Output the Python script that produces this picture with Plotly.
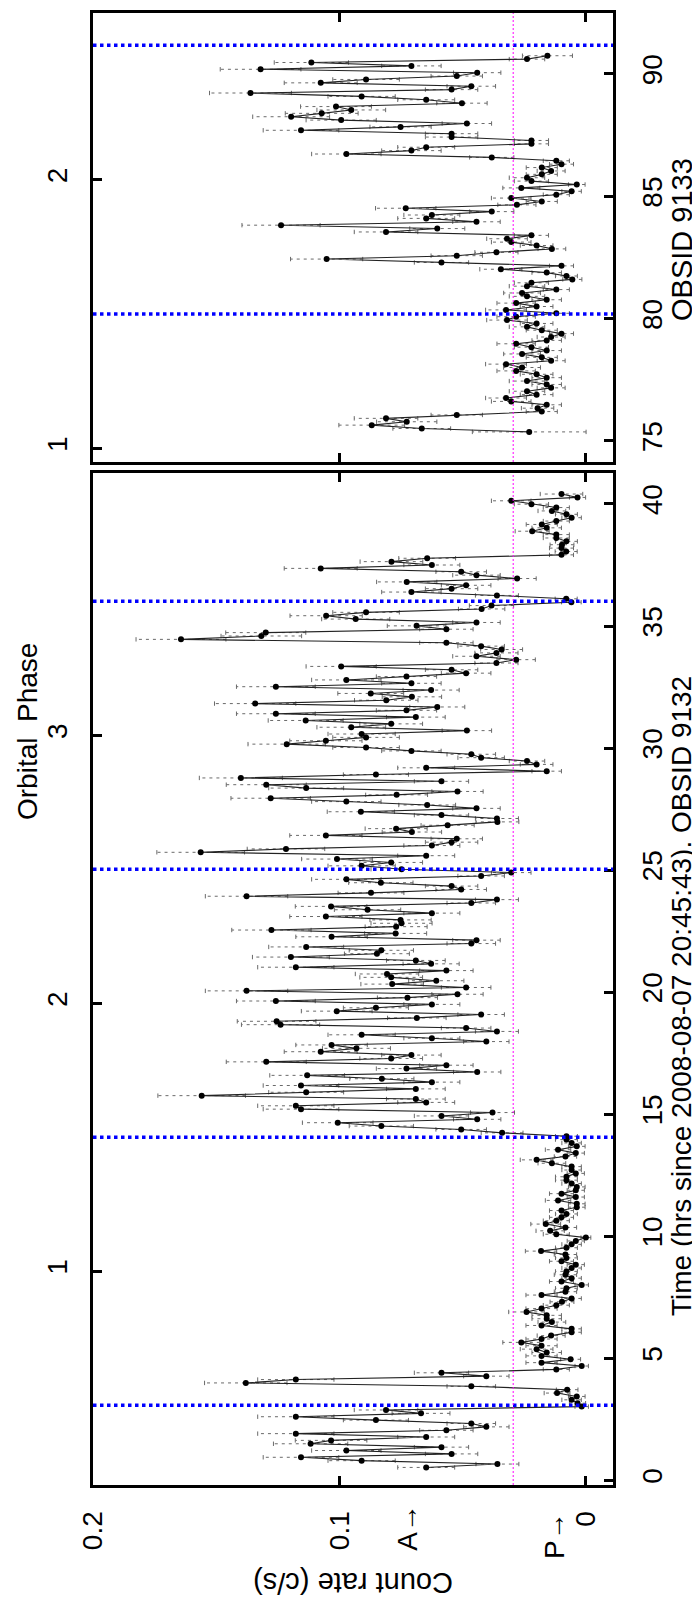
import numpy as np
import plotly.graph_objects as go

# Courbe de lumière Chandra, bins de 500 s (taux en c/s)
BIN_H = 0.1385          # largeur du bin en heures
EXPO_S = 500.0          # exposition nominale d'un bin (s)

# OBSID 9132 (panneau du bas), temps en h depuis 2008-08-07 20:45:43
T0_9132 = 0.52
RATE_9132 = [
    0.0648, 0.0359, 0.0910, 0.1156, 0.0545, 0.0972, 0.0586, 0.1117, 0.1034, 0.0648,
    0.1177, 0.0566, 0.0404, 0.0465, 0.0852, 0.1177, 0.0669, 0.0811,
    0.0017, 0.0034, 0.0058, 0.0037, 0.0117, 0.0076, 0.0465, 0.1380, 0.1177, 0.0404,
    0.0586, 0.0120, 0.0017, 0.0180, 0.0062, 0.0180, 0.0159, 0.0200, 0.0180, 0.0262,
    0.0180, 0.0141, 0.0058, 0.0058, 0.0180, 0.0138, 0.0159, 0.0159, 0.0241, 0.0180,
    0.0120, 0.0097, 0.0058, 0.0180, 0.0083, 0.0079, 0.0017, 0.0099, 0.0058, 0.0083,
    0.0079, 0.0058, 0.0041, 0.0099, 0.0079, 0.0083, 0.0182, 0.0079, 0.0058, 0.0041,
    0.0000, 0.0120, 0.0145, 0.0083, 0.0163, 0.0120, 0.0099, 0.0079, 0.0099, 0.0037,
    0.0037, 0.0113, 0.0041, 0.0099, 0.0041, 0.0037, 0.0058, 0.0079, 0.0079, 0.0041,
    0.0058, 0.0058, 0.0138, 0.0200, 0.0083, 0.0041, 0.0113, 0.0037, 0.0058, 0.0079,
    0.0079,
    0.0340, 0.0506, 0.0830, 0.1007,
    0.0441, 0.0586, 0.0379, 0.1156, 0.1177, 0.0648, 0.0690, 0.1559, 0.1135, 0.0690,
    0.1156, 0.0625, 0.0828, 0.1131, 0.0441, 0.0728, 0.0566, 0.1297, 0.0790, 0.0708,
    0.1076, 0.0931, 0.1032, 0.0404, 0.0625, 0.0910, 0.0361, 0.0486, 0.1239, 0.1255,
    0.0686, 0.0425, 0.1011, 0.0852, 0.0625, 0.1258, 0.0724, 0.0521, 0.1377, 0.0486,
    0.0786, 0.0607, 0.0790, 0.0807, 0.0566, 0.1177, 0.0628, 0.0690, 0.1197, 0.0848,
    0.0830, 0.1135, 0.0465, 0.0444, 0.1032, 0.0772, 0.1276, 0.0770, 0.0748, 0.0752,
    0.1055, 0.0625, 0.0886,
    0.1034, 0.0465, 0.0361, 0.1377, 0.0872, 0.0506, 0.0545, 0.0832, 0.0972, 0.0425,
    0.0303, 0.0748, 0.0910, 0.0790, 0.1010, 0.0648, 0.1563, 0.1217, 0.0625, 0.0545,
    0.0524, 0.1055, 0.0706, 0.0770, 0.0561, 0.0359, 0.0361, 0.0586, 0.0913, 0.0444,
    0.0644, 0.0972, 0.1279, 0.0768, 0.0521, 0.1135, 0.1297, 0.0586, 0.1400, 0.0852,
    0.0159, 0.0648, 0.0200, 0.0239, 0.0425, 0.0465, 0.0708, 0.0892, 0.1214, 0.1055,
    0.0892, 0.0910, 0.0483, 0.0952, 0.0790, 0.1137, 0.0690, 0.1258, 0.0728, 0.0603,
    0.1342, 0.0810,
    0.0706, 0.0873, 0.0628, 0.1258, 0.0708, 0.0972, 0.0728, 0.0486, 0.0545, 0.0993,
    0.0363, 0.0283, 0.0444, 0.0363, 0.0342, 0.0425, 0.0566, 0.1643, 0.1317, 0.1299,
    0.0566, 0.0687, 0.0444, 0.0934, 0.1054, 0.0892, 0.0423, 0.0383, 0.0059, 0.0080,
    0.0361, 0.0708, 0.0545, 0.0486, 0.0727, 0.0279, 0.0444, 0.0506, 0.1076, 0.0625,
    0.0789, 0.0644, 0.0099, 0.0080, 0.0099, 0.0097, 0.0079, 0.0120, 0.0120, 0.0218,
    0.0159, 0.0179, 0.0120, 0.0058, 0.0079, 0.0138, 0.0120, 0.0221, 0.0303, 0.0034,
    0.0099,
]
EXPO_FIRST_9132, EXPO_LAST_9132 = 500.0, 200.0

# OBSID 9133 (panneau du haut)
T0_9133 = 75.37
RATE_9133 = [
    0.0230, 0.0666, 0.0869, 0.0727, 0.0811, 0.0524, 0.0179, 0.0196, 0.0159, 0.0303,
    0.0324, 0.0200, 0.0239, 0.0141, 0.0159, 0.0239, 0.0159, 0.0200, 0.0283, 0.0259,
    0.0324, 0.0141, 0.0179, 0.0259, 0.0159, 0.0221, 0.0283, 0.0159, 0.0141, 0.0099,
    0.0179, 0.0239, 0.0200, 0.0320, 0.0283, 0.0120, 0.0324, 0.0200, 0.0283, 0.0159,
    0.0239, 0.0259, 0.0120, 0.0239, 0.0221, 0.0055, 0.0079, 0.0159, 0.0345, 0.0099,
    0.0586, 0.1052, 0.0524, 0.0363, 0.0138, 0.0200, 0.0303, 0.0320, 0.0221,
    0.0811, 0.0603, 0.1237, 0.0444, 0.0648, 0.0625, 0.0382, 0.0731, 0.0280, 0.0179,
    0.0303, 0.0120, 0.0058, 0.0262, 0.0037, 0.0221, 0.0239, 0.0179, 0.0141, 0.0179,
    0.0099, 0.0120, 0.0382, 0.0972, 0.0708, 0.0648, 0.0221, 0.0221, 0.0545, 0.0545,
    0.1156, 0.0752, 0.0483, 0.0993, 0.1196, 0.1072, 0.0952, 0.1014, 0.0503, 0.0648,
    0.0910, 0.1361, 0.0545, 0.0465, 0.1076, 0.0892, 0.0524, 0.0441, 0.1320, 0.0708,
    0.1114, 0.0239, 0.0156,
]
EXPO_FIRST_9133, EXPO_LAST_9133 = 70.0, 200.0

# Phase orbitale : période et instant de la phase 1 dans chaque observation
PERIOD_H = 10.98
PHASE1_9132 = 8.56
PHASE1_9133 = 74.70
BLUE_PHASES_9132 = [0.5, 1.5, 2.5, 3.5]
BLUE_PHASES_9133 = [1.5, 2.5]
MAGENTA_RATE = 0.0295
A_RATE, P_RATE = 0.069, 0.0093

# Axes
RATE_RANGE = [0.2, -0.011]
RATE_TICKS = [0, 0.1, 0.2]
RATE_TICKTEXT = ["0", "0.1", "0.2"]
TIME_RANGE_9132 = [-0.2, 41.27]
TIME_RANGE_9133 = [74.14, 92.49]
TIME_TICKS_9132 = [0, 5, 10, 15, 20, 25, 30, 35, 40]
TIME_TICKS_9133 = [75, 80, 85, 90]
PHASE_TICKS_9132 = [1, 2, 3]
PHASE_TICKS_9133 = [1, 2]

FONT = "Liberation Sans, Arial, Helvetica, sans-serif"
W, H = 700, 1600
L, R = 85, 95
ROT_SHIFT = -9   # correction du décalage des textes tournés


def phase(t, t1):
    return 1 + (np.asarray(t, dtype=float) - t1) / PERIOD_H


def erreurs(rates, expo_first, expo_last):
    r = np.asarray(rates)
    expo = np.full(len(r), EXPO_S)
    expo[0], expo[-1] = expo_first, expo_last
    return np.sqrt(r * expo + 1.0) / expo


def traces_panneau(t0, rates, expo_first, expo_last, xa, ya):
    r = np.asarray(rates)
    t = t0 + BIN_H * np.arange(len(r))
    e = erreurs(rates, expo_first, expo_last)
    bx, by, cx, cy = [], [], [], []
    cap = 0.09
    for ti, ri, ei in zip(t, r, e):
        bx += [ri - ei, ri + ei, None]
        by += [ti, ti, None]
        cx += [ri - ei, ri - ei, None, ri + ei, ri + ei, None]
        cy += [ti - cap, ti + cap, None, ti - cap, ti + cap, None]
    return [
        go.Scatter(x=bx, y=by, mode="lines", xaxis=xa, yaxis=ya, hoverinfo="skip",
                   line=dict(color="#6a6a6a", width=1, dash="3px,4px")),
        go.Scatter(x=cx, y=cy, mode="lines", xaxis=xa, yaxis=ya, hoverinfo="skip",
                   line=dict(color="#6a6a6a", width=1)),
        go.Scatter(x=r, y=t, mode="lines+markers", xaxis=xa, yaxis=ya,
                   line=dict(color="#222222", width=1.1),
                   marker=dict(color="black", size=6)),
    ]


fig = go.Figure()
for tr in traces_panneau(T0_9132, RATE_9132, EXPO_FIRST_9132, EXPO_LAST_9132, "x", "y"):
    fig.add_trace(tr)
for tr in traces_panneau(T0_9133, RATE_9133, EXPO_FIRST_9133, EXPO_LAST_9133, "x2", "y2"):
    fig.add_trace(tr)


def py(pix):
    # pixel vertical (depuis le haut) -> fraction papier
    return (H - pix) / H


dom_bas = [py(1477), py(465)]
dom_haut = [py(454), py(5)]

tick_font = dict(family=FONT, size=28, color="black")
axe_taux = dict(range=RATE_RANGE, tickvals=RATE_TICKS, ticktext=RATE_TICKTEXT,
                ticks="inside", ticklen=9, tickwidth=3, tickcolor="black",
                showline=True, linewidth=3, linecolor="black", mirror="ticks",
                showgrid=False, zeroline=False, tickangle=-90, tickfont=tick_font,
                domain=[0, 1])
axe_temps = dict(side="right", ticks="inside", ticklen=9, tickwidth=3, tickcolor="black",
                 showline=True, linewidth=3, linecolor="black", showgrid=False,
                 zeroline=False, tickangle=-90, tickfont=tick_font, ticklabelstandoff=12)
axe_phase = dict(side="left", ticks="inside", ticklen=9, tickwidth=3, tickcolor="black",
                 showline=True, linewidth=3, linecolor="black", showgrid=False,
                 zeroline=False, tickangle=-90, tickfont=tick_font, ticklabelstandoff=12)

fig.update_layout(
    width=W, height=H, margin=dict(l=L, r=R, t=0, b=0),
    paper_bgcolor="white", plot_bgcolor="white", showlegend=False,
    font=dict(family=FONT, size=28, color="black"),
    xaxis=dict(axe_taux, anchor="y", ticklabelstandoff=12),
    xaxis2=dict(axe_taux, anchor="y2", showticklabels=False),
    yaxis=dict(axe_temps, anchor="x", domain=dom_bas, range=TIME_RANGE_9132,
               tickvals=TIME_TICKS_9132),
    yaxis2=dict(axe_temps, anchor="x2", domain=dom_haut, range=TIME_RANGE_9133,
                tickvals=TIME_TICKS_9133),
    yaxis3=dict(axe_phase, anchor="x", overlaying="y",
                range=list(phase(TIME_RANGE_9132, PHASE1_9132)), tickvals=PHASE_TICKS_9132),
    yaxis4=dict(axe_phase, anchor="x2", overlaying="y2",
                range=list(phase(TIME_RANGE_9133, PHASE1_9133)), tickvals=PHASE_TICKS_9133),
)

# lignes de phase (bleu pointillé) et niveau de référence (magenta)
for ph in BLUE_PHASES_9132:
    fig.add_shape(type="line", xref="x domain", x0=0, x1=1, yref="y3", y0=ph, y1=ph,
                  line=dict(color="#0000ff", width=3.5, dash="dot"))
for ph in BLUE_PHASES_9133:
    fig.add_shape(type="line", xref="x2 domain", x0=0, x1=1, yref="y4", y0=ph, y1=ph,
                  line=dict(color="#0000ff", width=3.5, dash="dot"))
for xr, yr in (("x", "y domain"), ("x2", "y2 domain")):
    fig.add_shape(type="line", xref=xr, x0=MAGENTA_RATE, x1=MAGENTA_RATE,
                  yref=yr, y0=0, y1=1, line=dict(color="#ff00ff", width=1, dash="2px,2px"))


def px(pix):
    # pixel horizontal -> fraction papier relative à la zone de tracé
    return (pix - L) / (W - L - R)


txt = dict(family=FONT, size=29, color="black")
fig.add_annotation(text="Count rate (c/s)", textangle=180, xref="paper", yref="paper",
                   x=px(345), y=py(1575), showarrow=False, font=txt,
                   xanchor="center", yanchor="middle", borderpad=0)
fig.add_annotation(text="Time (hrs since 2008-08-07 20:45:43). OBSID 9132", textangle=-90,
                   xref="paper", yref="paper", x=px(683), y=py(988), xshift=ROT_SHIFT,
                   showarrow=False, font=dict(txt, size=28), xanchor="center",
                   yanchor="middle", borderpad=0)
fig.add_annotation(text="OBSID 9133", textangle=-90, xref="paper", yref="paper",
                   x=px(683), y=py(232), xshift=ROT_SHIFT, showarrow=False, font=txt,
                   xanchor="center", yanchor="middle", borderpad=0)
fig.add_annotation(text="Orbital  Phase", textangle=-90, xref="paper", yref="paper",
                   x=px(28), y=py(724), xshift=ROT_SHIFT, showarrow=False,
                   font=dict(txt, size=28), xanchor="center", yanchor="middle", borderpad=0)
fig.add_annotation(text="A→", textangle=-90, xref="x", yref="paper", x=A_RATE, y=py(1519),
                   xshift=ROT_SHIFT, showarrow=False, font=tick_font,
                   xanchor="center", yanchor="middle")
fig.add_annotation(text="P→", textangle=-90, xref="x", yref="paper", x=P_RATE, y=py(1527),
                   xshift=ROT_SHIFT, showarrow=False, font=tick_font,
                   xanchor="center", yanchor="middle")

fig.write_html("out.html")
